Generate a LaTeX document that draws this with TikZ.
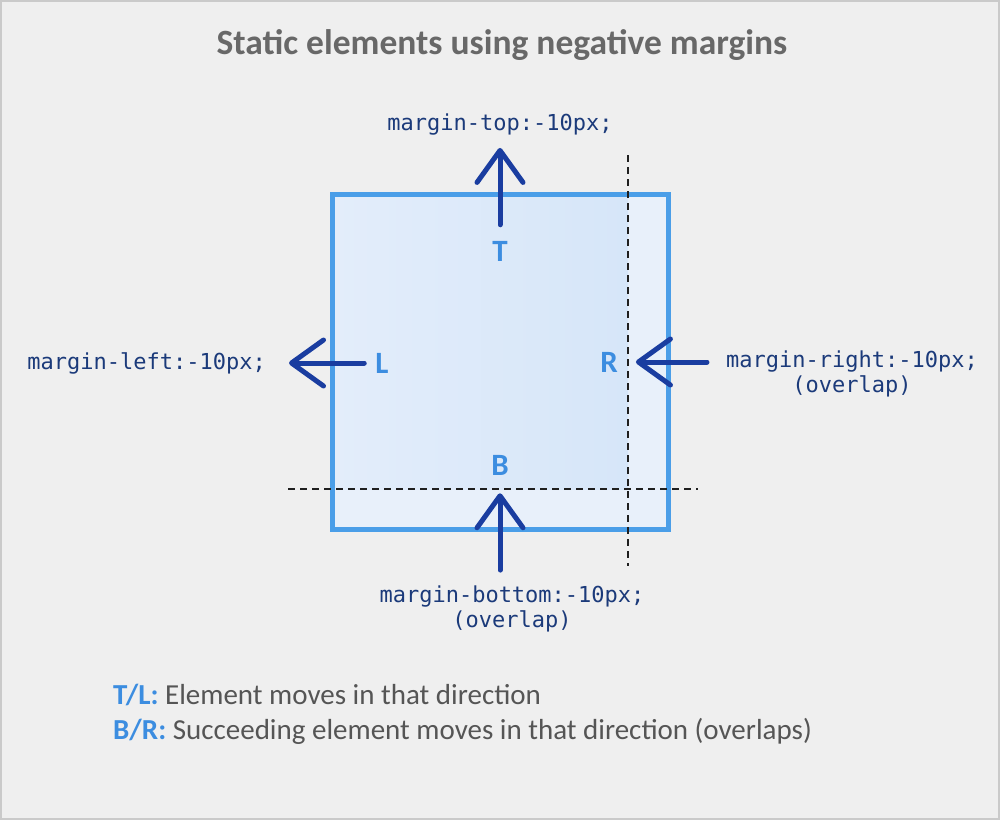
\documentclass[tikz,border=0pt]{standalone}
\usepackage{fontspec}
\setmainfont{Carlito}
\setmonofont{DejaVu Sans Mono}
\usetikzlibrary{arrows.meta}
\definecolor{bggray}{HTML}{EFEFEF}
\definecolor{framegray}{HTML}{CACACA}
\definecolor{titlegray}{HTML}{686868}
\definecolor{codenavy}{HTML}{1B3A7A}
\definecolor{arrowblue}{HTML}{1A3DA0}
\definecolor{boxblue}{HTML}{4A9EE8}
\definecolor{letterblue}{HTML}{3C8DE0}
\definecolor{textgray}{HTML}{555555}
\definecolor{paleblue}{HTML}{E8F0FA}
\definecolor{fillleft}{HTML}{E3EDFA}
\definecolor{fillright}{HTML}{D6E6F9}

\begin{document}
\begin{tikzpicture}[x=1pt, y=-1pt, >={Straight Barb[round, length=32pt, width=46pt]},
  code/.style={font=\ttfamily\fontsize{22}{25}\selectfont, text=codenavy, inner sep=0pt, align=center},
  side/.style={font=\bfseries\fontsize{31}{36}\selectfont, text=letterblue, inner sep=0pt},
  push/.style={->, draw=arrowblue, line width=5pt, line cap=round},
  guide/.style={dash pattern=on 7pt off 5pt, line width=1.6pt, draw=black!88},
  key/.style={anchor=base west, font=\fontsize{29}{34}\selectfont, text=textgray, inner sep=0pt}]
\useasboundingbox (0,0) rectangle (1000,820);
\fill[bggray] (0,0) rectangle (1000,820);
\draw[framegray, line width=2pt] (1,1) rectangle (999,819);

\node[font=\bfseries\fontsize{35.5}{40}\selectfont, text=titlegray, anchor=base] (title) at (502,54) {Static elements using negative margins};

% the element box
\fill[paleblue] (332,194) rectangle (669,530);
\shade[left color=fillleft, right color=fillright] (332,194) rectangle (628,489);
\draw[boxblue, line width=5pt] (332.5,194.5) rectangle (668.5,529.5);
\draw[guide] (628,155) -- (628,566);
\draw[guide] (288,489) -- (698,489);

\node[side] (T) at (500,251) {T};
\node[side] (L) at (382,363) {L};
\node[side] (R) at (609,362) {R};
\node[side] (B) at (500,465) {B};

\node[code, anchor=base] (mtop) at (500,130) {margin-top:-10px;};
\node[code, anchor=base east] (mleft) at (266,369) {margin-left:-10px;};
\node[code, anchor=base] (mright) at (852,392) {margin-right:-10px;\\(overlap)};
\node[code, anchor=base] (mbottom) at (512,627) {margin-bottom:-10px;\\(overlap)};

\draw[push, shorten <=16pt, shorten >=13pt] (T) -- (mtop);
\draw[push, shorten <=11pt, shorten >=23pt] (L) -- (L -| mleft.east);
\draw[push, shorten <=19pt, shorten >=18pt] (mright.west |- R) -- (R);
\draw[push, shorten <=15pt, shorten >=18pt] (B |- mbottom.north) -- (B);

% key
\node[key] (keytl) at (113,704) {\textcolor{letterblue}{\bfseries T/L:} Element moves in that direction};
\node[key] (keybr) at (113,739) {\textcolor{letterblue}{\bfseries B/R:} Succeeding element moves in that direction (overlaps)};
\end{tikzpicture}
\end{document}
